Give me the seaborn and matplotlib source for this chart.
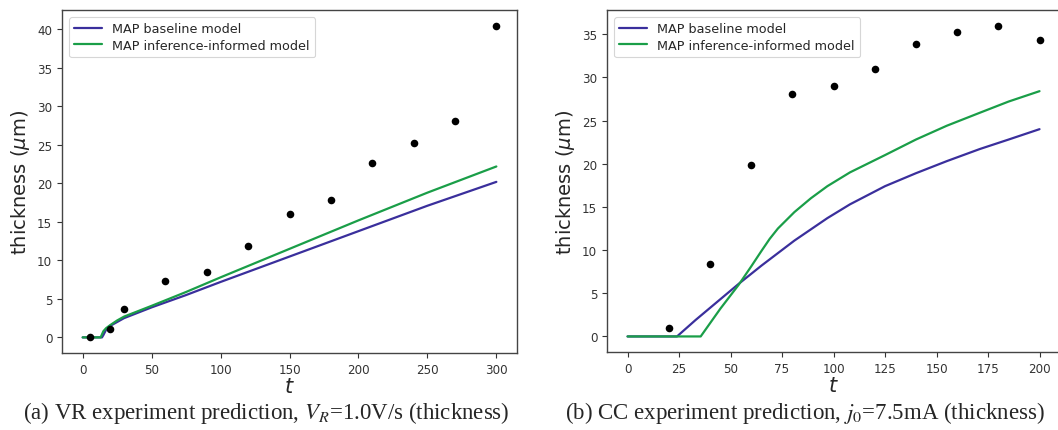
import matplotlib
matplotlib.use("Agg")
import matplotlib.pyplot as plt
import seaborn as sns

# ---- VR experiment (V_R = 1.0 V/s) ----
vr_obs_t = [5, 20, 30, 60, 90, 120, 150, 180, 210, 240, 270, 300]
vr_obs_y = [0.1, 1.1, 3.7, 7.3, 8.5, 11.9, 16.0, 17.9, 22.7, 25.3, 28.1, 40.5]

vr_base_t = [0, 14, 15, 17, 20, 25, 30, 40, 50, 75, 100, 150, 200, 250, 300]
vr_base_y = [0, 0, 0.3, 1.0, 1.5, 2.0, 2.5, 3.2, 3.9, 5.5, 7.2, 10.5, 13.8, 17.1, 20.2]

vr_inf_t = [0, 13, 15, 17, 20, 25, 30, 40, 50, 75, 100, 150, 200, 250, 300]
vr_inf_y = [0, 0, 0.8, 1.2, 1.6, 2.2, 2.7, 3.4, 4.1, 5.9, 7.8, 11.5, 15.2, 18.8, 22.2]

# ---- CC experiment (j_0 = 7.5 mA) ----
cc_obs_t = [20, 40, 60, 80, 100, 120, 140, 160, 180, 200]
cc_obs_y = [1.0, 8.4, 19.8, 28.1, 29.0, 31.0, 33.9, 35.2, 36.0, 34.3]

cc_base_t = [0, 24, 33, 42, 54, 65, 81, 97, 108, 125, 140, 155, 171, 185, 200]
cc_base_y = [0, 0, 1.9, 3.7, 6.1, 8.2, 11.1, 13.7, 15.3, 17.4, 18.9, 20.3, 21.7, 22.8, 24.0]

cc_inf_t = [0, 35.5, 45, 54, 60, 65, 69, 73, 81, 89, 97, 108, 125, 140, 155, 171, 185, 200]
cc_inf_y = [0, 0, 3.2, 6.0, 8.1, 9.9, 11.3, 12.5, 14.4, 16.0, 17.4, 19.0, 21.0, 22.8, 24.4,
            25.9, 27.2, 28.4]

labels = ["MAP baseline model", "MAP inference-informed model"]
colors = ["#3a2f9c", "#1a9e48"]

sns.set_style("ticks")
plt.rcParams["font.family"] = ["DejaVu Sans"]
plt.rcParams["mathtext.fontset"] = "dejavusans"

fig = plt.figure(figsize=(10.58, 4.31), dpi=100)
ax_a = fig.add_axes([0.0586, 0.1787, 0.4301, 0.7958])
ax_b = fig.add_axes([0.5737, 0.1810, 0.4283, 0.7935])


def draw_panel(ax, base_t, base_y, inf_t, inf_y, obs_t, obs_y, xticks, yticks):
    sns.lineplot(x=base_t, y=base_y, ax=ax, color=colors[0], lw=1.6, label=labels[0])
    sns.lineplot(x=inf_t, y=inf_y, ax=ax, color=colors[1], lw=1.6, label=labels[1])
    sns.scatterplot(x=obs_t, y=obs_y, ax=ax, color="black", s=30, edgecolor="black",
                    linewidth=0, zorder=3)
    ax.set_xticks(xticks)
    ax.set_yticks(yticks)
    ax.tick_params(labelsize=8.6, colors="#333333", length=3.5, width=0.8)
    for sp in ax.spines.values():
        sp.set_visible(True)
        sp.set_color("#444444")
        sp.set_linewidth(1.0)
    ax.set_xlabel("$t$", fontsize=15, labelpad=0)
    ax.set_ylabel(r"thickness ($\mu$m)", fontsize=14, labelpad=4)
    leg = ax.legend(loc="upper left", fontsize=9.2, frameon=True, handlelength=2.2,
                    borderaxespad=0.55, labelspacing=0.3)
    leg.get_frame().set_edgecolor("#cccccc")
    leg.get_frame().set_linewidth(0.8)


draw_panel(ax_a, vr_base_t, vr_base_y, vr_inf_t, vr_inf_y, vr_obs_t, vr_obs_y,
           [0, 50, 100, 150, 200, 250, 300], [0, 5, 10, 15, 20, 25, 30, 35, 40])
draw_panel(ax_b, cc_base_t, cc_base_y, cc_inf_t, cc_inf_y, cc_obs_t, cc_obs_y,
           [0, 25, 50, 75, 100, 125, 150, 175, 200], [0, 5, 10, 15, 20, 25, 30, 35])

cap_font = dict(family="Liberation Serif", fontsize=16.5, ha="center", va="baseline")
plt.rcParams["mathtext.fontset"] = "stix"
fig.text(266 / 1058, 1 - 419 / 431,
         r"(a) VR experiment prediction, $V_R$=1.0V/s (thickness)", **cap_font)
fig.text(805 / 1058, 1 - 419 / 431,
         r"(b) CC experiment prediction, $j_0$=7.5mA (thickness)", **cap_font)

fig.savefig("out.png", dpi=100)
